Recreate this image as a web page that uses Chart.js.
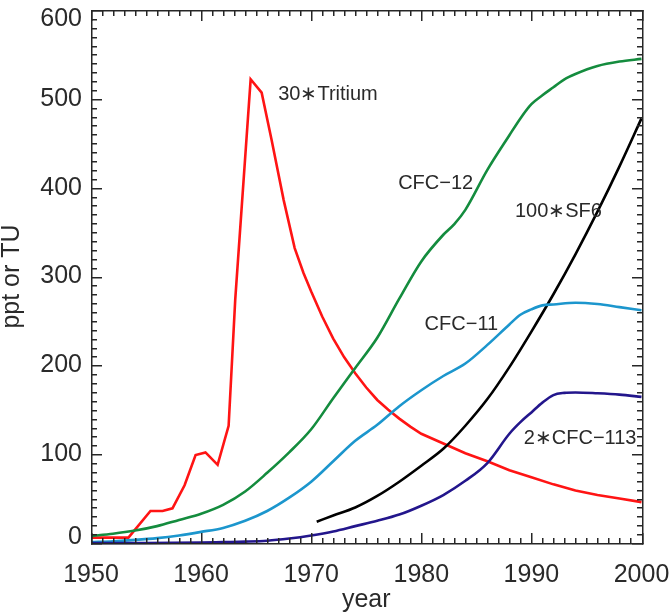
<!DOCTYPE html>
<html>
<head>
<meta charset="utf-8">
<title>Tracer history</title>
<script src="https://cdn.jsdelivr.net/npm/chart.js@4.4.1/dist/chart.umd.min.js"></script>
<style>
  html, body { margin: 0; padding: 0; background: #fff; }
</style>
</head>
<body>
<canvas id="tracerChart" width="672" height="613"></canvas>
<script>
// values (ppt, or TU for tritium)
const tritiumYears = [1950, 1953.4, 1955.4, 1956.5, 1957.4, 1958.5, 1959.5, 1960.4, 1961.5, 1962.5, 1963.1, 1964.5, 1965.5, 1966.4, 1967.5, 1968.5, 1969.3, 1970, 1971, 1972, 1973, 1974, 1975, 1976, 1977, 1978, 1979, 1980, 1982, 1984, 1986, 1988, 1990, 1992, 1994, 1996, 1998, 2000];
const tritium = [6, 6, 36, 36, 39, 65, 99, 102, 88, 132, 274, 522, 507, 454, 386, 332, 304, 283, 255, 230, 209, 191, 175, 161, 150, 140, 131, 123, 112, 101, 92, 82, 74, 66, 59, 54, 50, 46];

const cfc12Years = [1950, 1952, 1954, 1956, 1958, 1960, 1962, 1964, 1966, 1968, 1970, 1972, 1974, 1976, 1978, 1980, 1982, 1983, 1984, 1986, 1988, 1989, 1990, 1991, 1992, 1993, 1994, 1996, 1998, 2000];
const cfc12 = [8, 10.5, 14, 19, 26, 33, 43, 58, 79, 102, 128, 163, 197, 231, 275, 317, 347, 359, 375, 420, 459, 478, 494, 504, 513, 522, 528, 537, 542, 545];

const cfc11Years = [1950, 1952, 1954, 1956, 1958, 1960, 1962, 1964, 1966, 1968, 1970, 1972, 1974, 1976, 1978, 1980, 1982, 1984, 1986, 1988, 1989, 1990, 1991, 1992, 1994, 1996, 1998, 2000];
const cfc11 = [1, 2, 3.5, 5.5, 8.5, 12.5, 17, 25, 36, 51, 69, 92, 115, 133, 154, 172, 188, 202, 223, 246, 257, 263, 267.5, 268.5, 270.5, 269, 265.5, 262];

const sf6Years = [1970.5, 1972, 1974, 1976, 1978, 1980, 1982, 1984, 1986, 1988, 1990, 1992, 1994, 1996, 1998, 2000];
const sf6 = [24, 31, 40, 53, 69, 87, 106, 132, 162, 198, 238, 280, 325, 373, 424, 478];

const cfc113Years = [1950, 1955, 1960, 1962, 1964, 1966, 1968, 1970, 1972, 1974, 1976, 1978, 1980, 1982, 1984, 1986, 1988, 1989, 1990, 1991, 1992, 1993, 1994, 1996, 1998, 2000];
const cfc113 = [0, 0, 0.5, 1, 1.5, 2.5, 5, 8.5, 13, 19, 25, 32, 42, 54, 70, 90, 123, 136, 147, 158, 166.5, 169, 169.5, 168.5, 167, 164.5];

// curve labels, placed in data units (left edge, baseline)
const labelText = ['30\u2217Tritium', 'CFC\u221212', '100\u2217SF6', 'CFC\u221211', '2\u2217CFC\u2212113'];
const labelYears = [1967.0, 1977.9, 1988.5, 1980.3, 1989.3];
const labelValues = [498.7, 398.5, 367, 239.8, 111.5];

const xTicks = { min: 1950, max: 2000, major: 10, minor: 1 };
const yTicks = { min: 0, max: 600, major: 100, minor: 10 };

const pts = (xs, ys) => xs.map((x, i) => ({ x: x, y: ys[i] }));

const FONT = "'Liberation Sans', Arial, sans-serif";
const TEXT = '#2a2a2a';
const AXIS = '#262626';
const LW = 1.5;

// box round the plot with inward ticks on all four sides (filled rects)
const frameTicks = {
  id: 'frameTicks',
  afterDatasetsDraw(chart) {
    const ctx = chart.ctx;
    const a = chart.chartArea;
    const sx = chart.scales.x;
    const sy = chart.scales.y;
    const l = Math.round(a.left), r = Math.round(a.right);
    const t = Math.round(a.top), b = Math.round(a.bottom);
    ctx.save();
    ctx.fillStyle = AXIS;
    ctx.fillRect(l, t, r - l + LW, LW);
    ctx.fillRect(l, b, r - l + LW, LW);
    ctx.fillRect(l, t, LW, b - t + LW);
    ctx.fillRect(r, t, LW, b - t + LW);
    const nx = Math.round((xTicks.max - xTicks.min) / xTicks.minor);
    for (let i = 0; i <= nx; i++) {
      const v = xTicks.min + i * xTicks.minor;
      const px = Math.round(sx.getPixelForValue(v));
      const len = i % 10 === 0 ? 11 : 6;
      ctx.fillRect(px, b - len + 1, LW, len);
      ctx.fillRect(px, t, LW, len);
    }
    const ny = Math.round((yTicks.max - yTicks.min) / yTicks.minor);
    for (let i = 0; i <= ny; i++) {
      const v = yTicks.min + i * yTicks.minor;
      const py = Math.round(sy.getPixelForValue(v));
      const len = i % 10 === 0 ? 11 : 6;
      ctx.fillRect(l, py, len, LW);
      ctx.fillRect(r - len + 1, py, len, LW);
    }

    // y tick labels; the end ones sit a little inside the box, as in the original
    ctx.font = '25px ' + FONT;
    ctx.fillStyle = TEXT;
    ctx.textAlign = 'right';
    ctx.textBaseline = 'middle';
    sy.ticks.forEach((tk) => {
      const nudge = tk.value === yTicks.max ? 9.5 : (tk.value === yTicks.min ? -5.5 : 0);
      ctx.fillText(String(tk.value), a.left - 9, sy.getPixelForValue(tk.value) + nudge);
    });

    // curve names
    ctx.font = '20px ' + FONT;
    ctx.textAlign = 'left';
    ctx.textBaseline = 'alphabetic';
    labelText.forEach((txt, i) => {
      ctx.fillText(txt, sx.getPixelForValue(labelYears[i]), sy.getPixelForValue(labelValues[i]));
    });
    ctx.restore();
  }
};

const line = (data, color) => ({
  data: data,
  borderColor: color,
  borderWidth: 2.6,
  pointRadius: 0,
  fill: false,
  clip: 4
});

const smooth = (data, color) => Object.assign(line(data, color), { cubicInterpolationMode: 'monotone' });

const chart = new Chart(document.getElementById('tracerChart'), {
  type: 'line',
  data: {
    datasets: [
      smooth(pts(cfc113Years, cfc113), 'rgb(35, 22, 140)'),
      smooth(pts(cfc11Years, cfc11), 'rgb(28, 150, 205)'),
      smooth(pts(cfc12Years, cfc12), 'rgb(20, 140, 62)'),
      smooth(pts(sf6Years, sf6), '#000000'),
      Object.assign(line(pts(tritiumYears, tritium), 'rgb(255, 20, 20)'), { tension: 0 })
    ]
  },
  options: {
    responsive: false,
    animation: false,
    devicePixelRatio: 1,
    layout: { padding: { top: 10, right: 30.5, left: 0, bottom: 0 } },
    plugins: { legend: { display: false }, tooltip: { enabled: false } },
    scales: {
      x: {
        type: 'linear',
        min: xTicks.min,
        max: xTicks.max,
        grid: { display: false },
        border: { display: false },
        ticks: {
          stepSize: xTicks.major,
          padding: 9,
          color: TEXT,
          font: { family: FONT, size: 25 },
          maxRotation: 0,
          callback: (v) => String(v)
        },
        title: {
          display: true,
          text: 'year',
          color: TEXT,
          font: { family: FONT, size: 25, lineHeight: 1 },
          padding: { top: 0, bottom: 0 }
        },
        afterFit: (s) => { s.height = 70; s.paddingLeft = 0; s.paddingRight = 0; }
      },
      y: {
        min: yTicks.min,
        max: yTicks.max,
        grid: { display: false },
        border: { display: false },
        ticks: {
          stepSize: yTicks.major,
          display: false
        },
        title: {
          display: true,
          text: 'ppt or TU',
          color: TEXT,
          font: { family: FONT, size: 25, lineHeight: 1 },
          padding: { top: 0, bottom: 0 }
        },
        afterFit: (s) => { s.width = 91; s.paddingTop = 0; s.paddingBottom = 0; }
      }
    }
  },
  plugins: [frameTicks]
});
</script>
</body>
</html>
